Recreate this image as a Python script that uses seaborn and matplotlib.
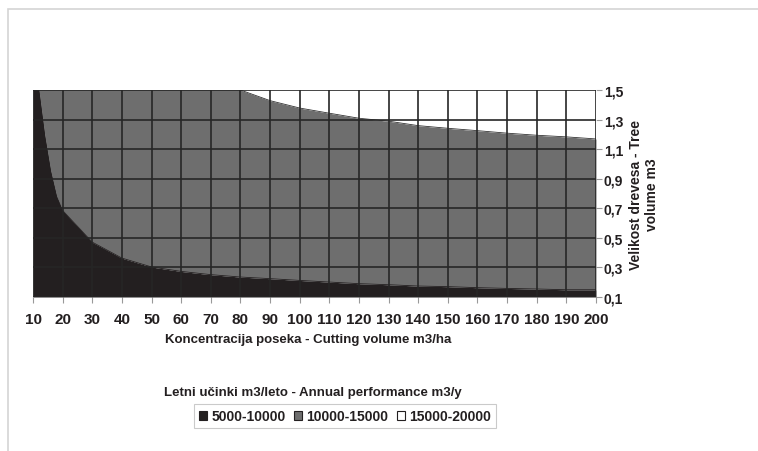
import matplotlib
matplotlib.use("Agg")
import matplotlib.pyplot as plt
import seaborn as sns
import numpy as np
from matplotlib.patches import Rectangle, Patch

# Data
cutting_volume = [10, 12, 14, 16, 18, 20, 30, 40, 50, 60, 70, 80, 90, 100, 110, 120, 130, 140, 150, 160, 170, 180, 190, 200]
lower_bound = [1.85, 1.50, 1.19, 0.95, 0.78, 0.685, 0.471, 0.363, 0.303, 0.273, 0.251, 0.235, 0.224, 0.212,
               0.201, 0.190, 0.183, 0.174, 0.170, 0.163, 0.158, 0.154, 0.149, 0.149]
upper_bound = [2.5, 2.45, 2.4, 2.3, 2.2, 2.1, 1.95, 1.85, 1.75, 1.68, 1.58, 1.50, 1.428, 1.378,
               1.343, 1.309, 1.289, 1.259, 1.241, 1.225, 1.208, 1.194, 1.183, 1.169]
series_names = ["5000-10000", "10000-15000", "15000-20000"]
series_colors = ["#231f20", "#6e6e6e", "#ffffff"]
x_ticks = list(range(10, 201, 10))
y_ticks = [0.1, 0.3, 0.5, 0.7, 0.9, 1.1, 1.3, 1.5]

sns.set_theme(style="white")
plt.rcParams['font.family'] = ['Liberation Sans', 'DejaVu Sans']

fig = plt.figure(figsize=(7.58, 4.52), dpi=100)
fig.patches.append(Rectangle((8 / 758, -0.05), 1.0, 1 - 10 / 452 + 0.05, transform=fig.transFigure,
                             fill=False, edgecolor="#d4d4d4", linewidth=1.2))
ax = fig.add_axes([33 / 758, (452 - 298) / 452, (596 - 33) / 758, (298 - 91) / 452])

x = np.array(cutting_volume)
lo = np.array(lower_bound)
hi = np.array(upper_bound)
ymin, ymax = 0.1, 1.5

ax.fill_between(x, ymin, lo, color=series_colors[0], linewidth=0, zorder=1)
ax.fill_between(x, lo, hi, color=series_colors[1], linewidth=0, zorder=1)
ax.fill_between(x, hi, 3, color=series_colors[2], linewidth=0, zorder=1)
sns.lineplot(x=x, y=lo, ax=ax, color=series_colors[0], linewidth=0.6, zorder=2)
sns.lineplot(x=x, y=hi, ax=ax, color="#333333", linewidth=0.6, zorder=2)

for xv in x_ticks:
    ax.axvline(xv, color="#262626", linewidth=1.2, zorder=3)
for yv in y_ticks:
    ax.axhline(yv, color="#262626", linewidth=1.2, zorder=3)

ax.set_xlim(10, 200)
ax.set_ylim(ymin, ymax)
ax.set_xticks(x_ticks)
ax.set_yticks(y_ticks)
ax.set_yticklabels([f"{v:.1f}".replace(".", ",") for v in y_ticks])
ax.yaxis.tick_right()
ax.yaxis.set_label_position("right")
ax.tick_params(axis="both", which="both", length=4, width=0.8,
               color="#999999", direction="out")
ax.tick_params(axis="x", bottom=True, pad=7, labelsize=11)
ax.tick_params(axis="y", right=True, left=False, pad=1.5, labelsize=10)
for lab in ax.get_xticklabels() + ax.get_yticklabels():
    lab.set_fontweight("bold")
    lab.set_color("#231f20")
for s in ax.spines.values():
    s.set_visible(False)

ax.set_xlabel("Koncentracija poseka - Cutting volume m3/ha", fontsize=9.5, fontweight="bold",
              color="#231f20")
ax.xaxis.set_label_coords((308 - 33) / 563, -(340 - 298) / 207, transform=ax.transAxes)
ax.xaxis.label.set_va("center")
ax.set_ylabel("Velikost drevesa - Tree\nvolume m3", fontsize=10, fontweight="bold",
              color="#231f20", rotation=90, linespacing=1.15)
ax.yaxis.set_label_coords((644 - 33) / 563, 0.5, transform=ax.transAxes)
ax.yaxis.label.set_va("center")

handles = [Patch(facecolor=c, edgecolor="#231f20", linewidth=0.8) for c in series_colors]
fig.text(313 / 758, 1 - 393 / 452, "Letni učinki m3/leto - Annual performance m3/y",
         fontsize=9.5, fontweight="bold", color="#231f20", ha="center", va="center")
leg = fig.legend(handles, series_names, loc="center", bbox_to_anchor=(345 / 758, 1 - 417 / 452),
                 ncol=3, frameon=True, fancybox=False, handlelength=0.6, handleheight=0.6,
                 handletextpad=0.3, columnspacing=0.6, borderpad=0.35,
                 prop={"weight": "bold", "size": 10})
leg.get_frame().set_edgecolor("#bdbdbd")
leg.get_frame().set_linewidth(0.8)
for t in leg.get_texts():
    t.set_color("#231f20")

fig.savefig("out.png", dpi=100)
